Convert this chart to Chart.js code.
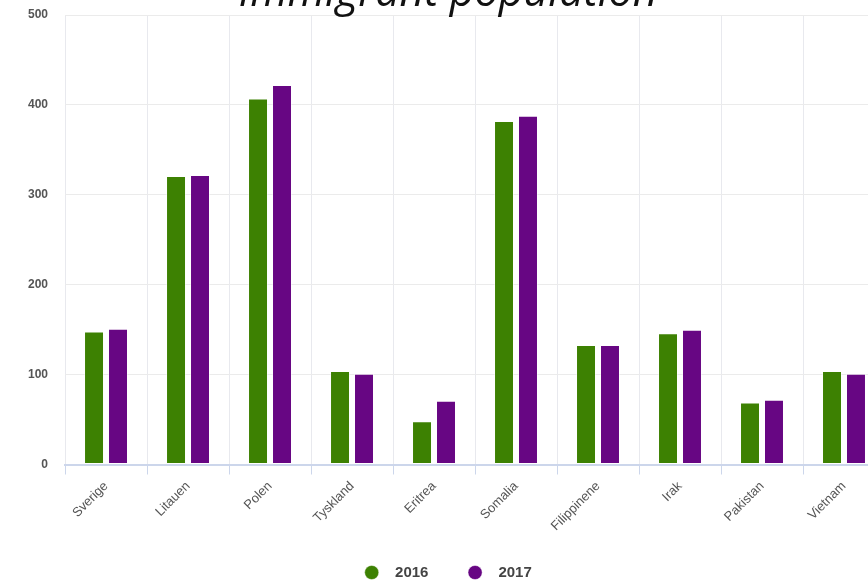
<!DOCTYPE html>
<html>
<head>
<meta charset="utf-8">
<title>Immigrant population</title>
<script src="https://cdn.jsdelivr.net/npm/chart.js@4.4.1/dist/chart.umd.min.js"></script>
<style>
    html, body { margin: 0; padding: 0; background: #fff; overflow: hidden; }
    #wrap { position: absolute; left: 0; top: -28px; width: 900px; height: 618px; }
</style>
</head>
<body>
<div id="wrap"><canvas id="immigrants"></canvas></div>
<script>
    const countries = ['Sverige', 'Litauen', 'Polen', 'Tyskland', 'Eritrea', 'Somalia', 'Filippinene', 'Irak', 'Pakistan', 'Vietnam'];
    const years = ['2016', '2017'];
    const values2016 = [148, 321, 407, 104, 48, 382, 133, 146, 69, 104];
    const values2017 = [151, 322, 422, 101, 71, 388, 133, 150, 72, 101];
    const yTicks = [0, 100, 200, 300, 400, 500];

    const sans = '"Liberation Sans", Arial, sans-serif';

    function barSet(label, data, color) {
        return {
            label,
            data,
            backgroundColor: color,
            borderColor: 'rgba(255,255,255,0.45)',
            borderWidth: 1,
            borderSkipped: false,
            categoryPercentage: 0.585,
            barPercentage: 0.833
        };
    }

    // wider gap after the dot and between the two legend entries
    function spacedLabels(chart) {
        const items = Chart.defaults.plugins.legend.labels.generateLabels(chart);
        items.forEach((item, i) => {
            item.text = '  ' + item.text + (i < items.length - 1 ? '       ' : '');
        });
        return items;
    }

    new Chart(document.getElementById('immigrants'), {
        type: 'bar',
        data: {
            labels: countries,
            datasets: [
                barSet(years[0], values2016, '#3d8102'),
                barSet(years[1], values2017, '#670683')
            ]
        },
        options: {
            responsive: true,
            maintainAspectRatio: false,
            animation: false,
            layout: { padding: { left: 11, right: 15, top: 0, bottom: 0 } },
            plugins: {
                title: {
                    display: true,
                    text: 'Immigrant population',
                    color: '#111',
                    font: { family: '"Open Sans", sans-serif', size: 43, style: 'italic', weight: 'normal', lineHeight: 1 },
                    padding: 0
                },
                legend: {
                    position: 'bottom',
                    labels: {
                        usePointStyle: true,
                        pointStyle: 'circle',
                        boxWidth: 15,
                        boxHeight: 10,
                        padding: 10,
                        color: '#444',
                        font: { family: sans, size: 15, weight: 'bold' },
                        generateLabels: spacedLabels
                    }
                },
                tooltip: { enabled: false }
            },
            scales: {
                x: {
                    grid: { color: '#e8e9ee', tickColor: '#ccd6eb', tickLength: 10, offset: true },
                    border: { color: '#ccd6eb', width: 2 },
                    ticks: {
                        color: '#555',
                        font: { family: sans, size: 13 },
                        minRotation: 45,
                        maxRotation: 45,
                        padding: 4
                    },
                    afterFit: scale => { scale.height += 17; }
                },
                y: {
                    min: 0,
                    max: 500,
                    afterBuildTicks: axis => { axis.ticks = yTicks.map(v => ({ value: v })); },
                    grid: { color: '#ebebeb', drawTicks: false },
                    border: { display: false },
                    ticks: { color: '#555', font: { family: sans, size: 12, weight: 'bold' }, padding: 17 }
                }
            }
        }
    });
</script>
</body>
</html>
